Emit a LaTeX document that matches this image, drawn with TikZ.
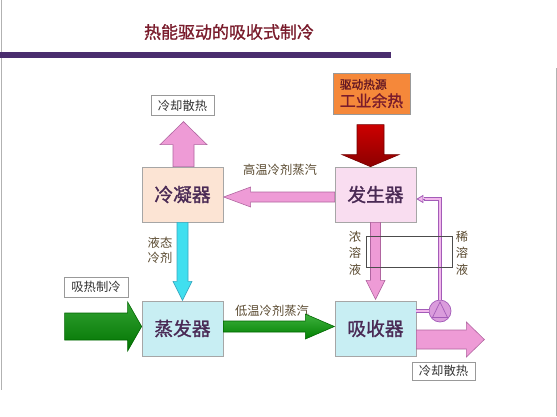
\documentclass[tikz,border=0pt]{standalone}
\usepackage{fontspec}
\newfontfamily\cjk{Noto Sans CJK SC}
\newfontfamily\cjkb[FakeBold=1.2]{Noto Sans CJK SC}
\usetikzlibrary{positioning,calc,arrows.meta}

\definecolor{titlered}{HTML}{7A1C2C}
\definecolor{barpurple}{HTML}{4A2D6E}
\definecolor{unittext}{HTML}{4A2A55}
\definecolor{notetext}{HTML}{5A4A30}
\definecolor{condfill}{HTML}{FCE4D4}
\definecolor{genfill}{HTML}{F9DDF0}
\definecolor{evapfill}{HTML}{C8EEF3}
\definecolor{pinkfill}{HTML}{EE9BD6}
\definecolor{pinkline}{HTML}{B065A0}
\definecolor{cyanfill}{HTML}{40DFEF}
\definecolor{cyanline}{HTML}{3AA8C0}
\definecolor{srcfill}{HTML}{F5883A}
\definecolor{pipeline}{HTML}{A35CB8}
\definecolor{pipefill}{HTML}{F2B8EC}

\begin{document}
\begin{tikzpicture}[x=0.03cm, y=-0.03cm, on grid, font=\cjk,
    unit/.style={draw=gray!70, line width=0.6pt, minimum width=2.43cm,
      minimum height=1.65cm, text=unittext,
      font=\cjkb\fontsize{16pt}{18pt}\selectfont},
    tag/.style={draw=gray!80, fill=white, line width=0.6pt,
      minimum width=1.89cm, minimum height=0.6cm, inner sep=1pt,
      text=black!80, font=\cjk\fontsize{10.5pt}{12pt}\selectfont},
    note/.style={align=center, text=notetext,
      font=\cjk\fontsize{10.5pt}{14pt}\selectfont},
    pinkarrow/.style={fill=pinkfill, draw=pinkline, line width=0.5pt},
    pipe/.style={draw=pipeline, double=pipefill, double distance=1.6pt,
      line width=0.7pt}]
  \useasboundingbox (0,0) rectangle (557,416);
  \fill[white] (0,0) rectangle (557,416);
  \draw[gray!60, line width=0.8pt] (1,0) -- (1,390);
  \draw[gray!60, line width=0.8pt] (556,68) -- (556,416);

  % title
  \node[text=titlered, font=\cjkb\fontsize{14.5pt}{16pt}\selectfont] (title)
    at (229,32) {热能驱动的吸收式制冷};
  \fill[barpurple] (0,52) rectangle (391,58);

  % the four units
  \node[unit, fill=condfill] (cond) at (182.5,194.5) {冷凝器};
  \node[unit, fill=genfill, right=5.79cm of cond] (gen) {发生器};
  \node[unit, fill=evapfill, below=4.02cm of cond] (evap) {蒸发器};
  \node[unit, fill=evapfill, below=4.02cm of gen] (abs) {吸收器};

  % outside heat
  \node[tag, above=2.67cm of cond] (heatup) {冷却散热};
  \node[tag, minimum height=0.54cm] (heatdown) at (443.5,371) {冷却散热};
  \node[tag, minimum width=1.92cm] (heatin) at (96,287) {吸热制冷};
  \node[draw=gray!80, fill=srcfill, line width=0.6pt, minimum width=2.31cm,
    minimum height=1.23cm, align=left, inner sep=2pt, font=\cjkb] (src)
    at (371.5,93.5)
    {{\fontsize{10pt}{13pt}\selectfont\color{titlered!80!black}驱动热源}\\[2pt]
     {\fontsize{13.5pt}{15pt}\selectfont\color{titlered}工业余热}};

  % labels
  \node[note] (hivap) at (280,170) {高温冷剂蒸汽};
  \node[note] (lovap) at (272,311) {低温冷剂蒸汽};
  \node[note, font=\cjk\fontsize{10.5pt}{13pt}\selectfont] (liq) at (160,250) {液态\\冷剂};
  \node[note] (strong) at (355,253) {浓\\溶\\液};
  \node[note] (weak) at (462,253) {稀\\溶\\液};

  % fat arrows
  \draw[pinkarrow] ($(cond.north)+(-9.5,0)$) -- ++(0,-22) -- ++(-13,0)
    -- ++(23.5,-23) -- ++(23.5,23) -- ++(-13,0) -- ++(0,22) -- cycle;
  \draw[draw=red!45!black, line width=0.5pt, top color=red!80!black,
    bottom color=red!55!black] ($(gen.north)+(-5,0)$) -- ++(-28.5,-12)
    -- ++(15,0) -- ++(0,-30) -- ++(27,0) -- ++(0,30) -- ++(15,0) -- cycle;
  \draw[pinkarrow] ($(gen.west)+(0,-2.5)$) -- ++(-84,0) -- ++(0,-5)
    -- ++(-27,10) -- ++(27,10) -- ++(0,-5) -- ++(84,0) -- cycle;
  \draw[fill=cyanfill, draw=cyanline, line width=0.5pt]
    ($(cond.south)+(-5.5,0)$) -- ++(0,59) -- ++(-4,0) -- ++(9.5,19)
    -- ++(9.5,-19) -- ++(-4,0) -- ++(0,-59) -- cycle;
  \draw[pinkarrow] ($(gen.south)+(-5,0)$) -- ++(0,58) -- ++(-4.5,0)
    -- ++(9.5,19) -- ++(9.5,-19) -- ++(-4.5,0) -- ++(0,-58) -- cycle;
  \draw[draw=green!40!black, line width=0.5pt, top color=green!55!black!80,
    bottom color=green!45!black] ($(evap.west)+(-77,-15.5)$) -- ++(63,0)
    -- ++(0,-11) -- ++(14,24.5) -- ++(-14,24.5) -- ++(0,-11) -- ++(-63,0) -- cycle;
  \draw[draw=green!40!black, line width=0.5pt, top color=green!60!black!75,
    bottom color=green!50!black] ($(evap.east)+(0,-7.5)$) -- ++(82,0)
    -- ++(0,-7) -- ++(29,12.5) -- ++(-29,12.5) -- ++(0,-7) -- ++(-82,0) -- cycle;
  \draw[pinkarrow] ($(abs.east)+(0,1.5)$) -- ++(50,0) -- ++(0,-8)
    -- ++(18,17.5) -- ++(-18,17.5) -- ++(0,-8) -- ++(-50,0) -- cycle;

  % pump and return line
  \node[circle, draw=pipeline, fill=pipefill!70!pipeline, line width=0.6pt,
    minimum size=0.66cm, inner sep=0pt] (pump) at (440,311) {};
  \draw[pipeline, line width=0.6pt] ($(pump)+(0,-9)$) -- ($(pump)+(-7.5,6.5)$)
    -- ($(pump)+(7.5,6.5)$) -- cycle;
  \draw[pipe] (abs.east |- pump) -- (pump.west);
  \coordinate (ret) at ($(gen.east)+(0,4.5)$);
  \draw[pipe] (pump.north) |- ($(ret)+(8,0)$);
  \draw[pipeline, line width=0.7pt,
    -{Triangle[open, fill=pipefill, length=6pt, width=7pt]}]
    ($(ret)+(9,0)$) -- (ret);

  % thin frame
  \draw[black!70, line width=0.5pt] (366,236) rectangle (452,267);
\end{tikzpicture}
\end{document}
